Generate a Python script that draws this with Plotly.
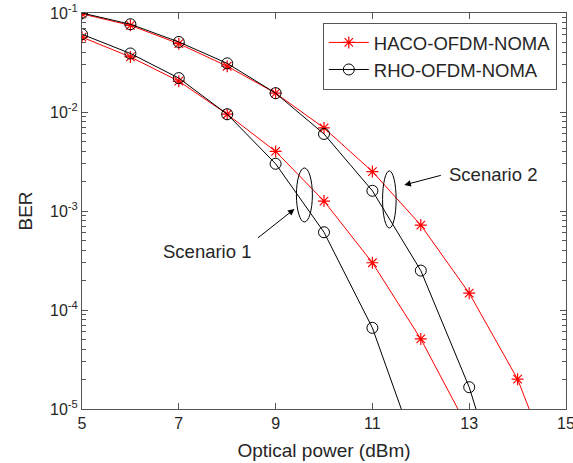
import plotly.graph_objects as go

# ---- data ----
x_s1_haco = [5, 6, 7, 8, 9, 10, 11, 12, 13]
ber_s1_haco = [0.057, 0.036, 0.0205, 0.0095, 0.0040, 0.00126, 0.00030, 5.1e-5, 6.1e-6]
x_s1_rho = [5, 6, 7, 8, 9, 10, 11, 12]
ber_s1_rho = [0.061, 0.039, 0.022, 0.0095, 0.0030, 0.00061, 6.6e-5, 2.8e-6]

x_s2_haco = [5, 6, 7, 8, 9, 10, 11, 12, 13, 14, 15]
ber_s2_haco = [0.098, 0.075, 0.049, 0.029, 0.0155, 0.0069, 0.0025, 0.00072, 0.000148, 2.0e-5, 1.1e-6]
x_s2_rho = [5, 6, 7, 8, 9, 10, 11, 12, 13, 14]
ber_s2_rho = [0.100, 0.077, 0.051, 0.031, 0.0155, 0.0060, 0.0016, 0.00025, 1.66e-5, 4.5e-7]

x_ticks = [5, 7, 9, 11, 13, 15]
y_ticks = [1e-5, 1e-4, 1e-3, 1e-2, 1e-1]
y_ticktext = ["10<sup>-5</sup>", "10<sup>-4</sup>", "10<sup>-3</sup>", "10<sup>-2</sup>", "10<sup>-1</sup>"]
y_minor = [m * 10 ** e for e in (-5, -4, -3, -2) for m in range(2, 10)]

RED = "#ff0000"
BLK = "#000000"
AX = "#555555"
TXT = "#262626"
FONT = "Liberation Sans"

haco_style = dict(mode="lines+markers", line=dict(color=RED, width=1),
                  marker=dict(symbol="asterisk-open", size=10, color=RED, line=dict(color=RED, width=1.2)))
rho_style = dict(mode="lines+markers", line=dict(color=BLK, width=1),
                 marker=dict(symbol="circle-open", size=11, color=BLK, line=dict(color=BLK, width=1)))

fig = go.Figure()
fig.add_trace(go.Scatter(x=x_s1_haco, y=ber_s1_haco, name="HACO-OFDM-NOMA", legendgroup="h", showlegend=True, **haco_style))
fig.add_trace(go.Scatter(x=x_s1_rho, y=ber_s1_rho, name="RHO-OFDM-NOMA", legendgroup="r", showlegend=True, **rho_style))
fig.add_trace(go.Scatter(x=x_s2_haco, y=ber_s2_haco, name="HACO-OFDM-NOMA", legendgroup="h", showlegend=False, **haco_style))
fig.add_trace(go.Scatter(x=x_s2_rho, y=ber_s2_rho, name="RHO-OFDM-NOMA", legendgroup="r", showlegend=False, **rho_style))

axis_common = dict(showline=True, linecolor=AX, linewidth=1, mirror="ticks", ticks="inside",
                   tickcolor=AX, showgrid=False, zeroline=False, automargin=False,
                   tickfont=dict(family=FONT, size=16, color=TXT))

fig.update_xaxes(range=[5, 15], tickvals=x_ticks, ticklen=6, ticklabeloverflow="allow",
                 title=dict(text="Optical power (dBm)", font=dict(family=FONT, size=19, color=TXT), standoff=12),
                 **axis_common)
fig.update_yaxes(type="log", range=[-5, -1], tickvals=y_ticks, ticktext=y_ticktext, ticklen=6,
                 ticklabeloverflow="allow",
                 minor=dict(tickmode="array", tickvals=y_minor, ticks="inside", ticklen=4,
                            tickcolor=AX, tickwidth=1, showgrid=False),
                 title=dict(text="BER", font=dict(family=FONT, size=19, color=TXT), standoff=12),
                 **axis_common)

# ellipses marking the scenarios
fig.add_shape(type="circle", xref="x", yref="y", x0=9.43, x1=9.76, y0=7.74e-4, y1=2.72e-3,
              line=dict(color=BLK, width=1))
fig.add_shape(type="circle", xref="x", yref="y", x0=11.21, x1=11.49, y0=6.73e-4, y1=2.54e-3,
              line=dict(color=BLK, width=1))

# labels and arrows
fig.add_annotation(x=7.58, y=-3.414, text="Scenario 1", showarrow=False,
                   font=dict(family=FONT, size=18.5, color=TXT))
fig.add_annotation(x=13.49, y=-2.636, text="Scenario 2", showarrow=False,
                   font=dict(family=FONT, size=18.5, color=TXT))
fig.add_annotation(x=9.39, y=-2.98, text="", showarrow=True, ax=-38, ay=30,
                   arrowhead=2, arrowsize=1.3, arrowwidth=1, arrowcolor=BLK)
fig.add_annotation(x=11.66, y=-2.737, text="", showarrow=True, ax=38, ay=-10,
                   arrowhead=2, arrowsize=1.3, arrowwidth=1, arrowcolor=BLK)

fig.update_layout(
    width=573, height=463,
    margin=dict(l=82, r=7, t=13, b=54),
    paper_bgcolor="white", plot_bgcolor="white",
    font=dict(family=FONT, color=TXT),
    legend=dict(x=0.981, y=0.975, xanchor="right", yanchor="top",
                bgcolor="white", bordercolor=AX, borderwidth=1,
                font=dict(family=FONT, size=18.5, color=TXT),
                tracegroupgap=0, itemwidth=40),
)

fig.write_html("out.html")
